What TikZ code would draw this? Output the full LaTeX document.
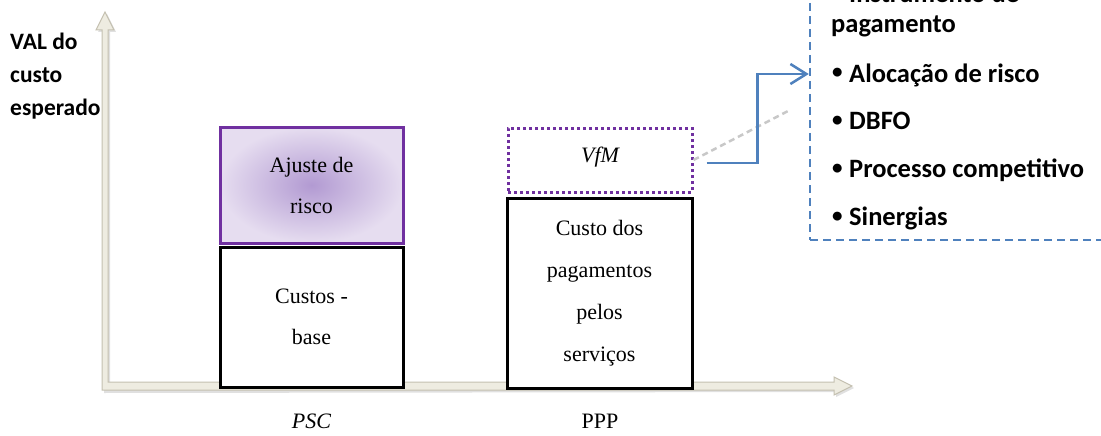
\documentclass[tikz,border=0pt]{standalone}
\usepackage{fontspec}
\newfontfamily\carlito{Carlito}
\newfontfamily\tserif{Liberation Serif}
\usetikzlibrary{arrows.meta,calc}
\definecolor{axfill}{HTML}{EEECE1}
\definecolor{axline}{HTML}{C4C0B0}
\definecolor{vpurple}{HTML}{7030A0}
\definecolor{bblue}{HTML}{4F81BD}
\definecolor{dgray}{HTML}{C8C8C8}
\definecolor{gradin}{HTML}{B29AD2}
\definecolor{gradout}{HTML}{E6DDF0}
\begin{document}
\begin{tikzpicture}[x=1pt,y=-1pt,
  serif/.style={font=\tserif\fontsize{22}{41}\selectfont, align=center, text=black},
  stackbox/.style={draw=black, line width=3pt, inner sep=0pt, fill=white},
  riskbox/.style={draw=vpurple, line width=3pt, inner sep=0pt, shading=radial, inner color=gradin, outer color=gradout},
  vfmbox/.style={draw=vpurple, line width=3pt, inner sep=0pt, dash pattern=on 3pt off 3pt},
  panelbox/.style={draw=bblue, line width=2.5pt, dash pattern=on 8pt off 5pt, inner sep=0pt},
  sanslbl/.style={font=\carlito\bfseries\fontsize{23.5}{28}\selectfont, anchor=base west, inner sep=0pt},
  bullettxt/.style={font=\carlito\bfseries\fontsize{26.5}{30}\selectfont, anchor=base west, inner sep=0pt},
  bulletdot/.style={font=\carlito\bfseries\fontsize{21}{30}\selectfont, anchor=base west, inner sep=0pt},
  conn/.style={draw=bblue, line width=2.5pt, -{Straight Barb[length=16pt,width=20pt,line width=2.5pt]}},
  ghost/.style={draw=dgray, line width=2.5pt, dash pattern=on 6pt off 4pt},
  axis/.style={fill=axfill, draw=axline, line width=1pt, line join=miter}
]
\useasboundingbox (0,0) rectangle (1101,436);
\clip (0,0) rectangle (1101,436);

% axes
\fill[black, opacity=0.12] (104,393) -- (104,32) -- (98,32) -- (107,14) -- (116,32) -- (110,32) -- (110,384) -- (836,384) -- (836,379) -- (854,388) -- (836,397) -- (836,392) -- cycle;
\path[axis] (102,390) -- (102,30) -- (96,30) -- (105,12) -- (114,30) -- (108,30) -- (108,382) -- (834,382) -- (834,377) -- (852,386) -- (834,395) -- (834,390) -- cycle;

% y label
\node[sanslbl] (yl1) at (10,50) {VAL do};
\node[sanslbl] (yl2) at (10,83) {custo};
\node[sanslbl] (yl3) at (10,115) {esperado};

% PSC stack
\node[riskbox, minimum width=183pt, minimum height=116pt] (ajuste) at (311.5,185) {};
\node[serif] (ajustetxt) at (ajuste.center) {Ajuste de\\risco};
\node[stackbox, minimum width=183pt, minimum height=140pt] (custos) at (311.5,317) {};
\node[serif] (custostxt) at (custos.center) {Custos -\\base};

% PPP stack
\node[vfmbox, minimum width=184pt, minimum height=64pt] (vfm) at (600,160) {};
\node[font=\tserif\fontsize{22}{24}\selectfont\itshape, anchor=base] (vfmtxt) at (600,162) {VfM};
\node[stackbox, minimum width=185pt, minimum height=190pt] (custo) at (599.5,293) {};
\node[serif, font=\tserif\fontsize{22}{42}\selectfont] (custotxt) at (custo.center) {Custo dos\\pagamentos\\pelos\\serviços};

% axis labels
\node[font=\tserif\fontsize{22}{24}\selectfont\itshape, anchor=base] (psc) at (311.5,428) {PSC};
\node[font=\tserif\fontsize{22}{24}\selectfont, anchor=base] (ppp) at (600,428) {PPP};

% right panel
\node[panelbox, minimum width=320pt, minimum height=260pt] (panel) at (970,110) {};
\node[bulletdot] (b1) at (832,0) {•};
\node[bullettxt] (t1) at (849,3) {Instrumento de};
\node[bullettxt] (t1b) at (831,33) {pagamento};
\node[bulletdot] (b2) at (832,79) {•};
\node[bullettxt] (t2) at (849,82) {Alocação de risco};
\node[bulletdot] (b3) at (832,126) {•};
\node[bullettxt] (t3) at (849,129) {DBFO};
\node[bulletdot] (b4) at (832,174) {•};
\node[bullettxt] (t4) at (849,177) {Processo competitivo};
\node[bulletdot] (b5) at (832,222) {•};
\node[bullettxt] (t5) at (849,225) {Sinergias};

% connectors
\coordinate (gend) at (790,110);
\draw[ghost] (vfm.east) -- (gend);
\coordinate (a0) at ($(vfm.east)+(13,3)$);
\coordinate (aend) at ($(panel.west)+(0,-36)$);
\draw[conn] (a0) -| ($(a0)!0.5!(aend)$) |- (aend);
\end{tikzpicture}
\end{document}
